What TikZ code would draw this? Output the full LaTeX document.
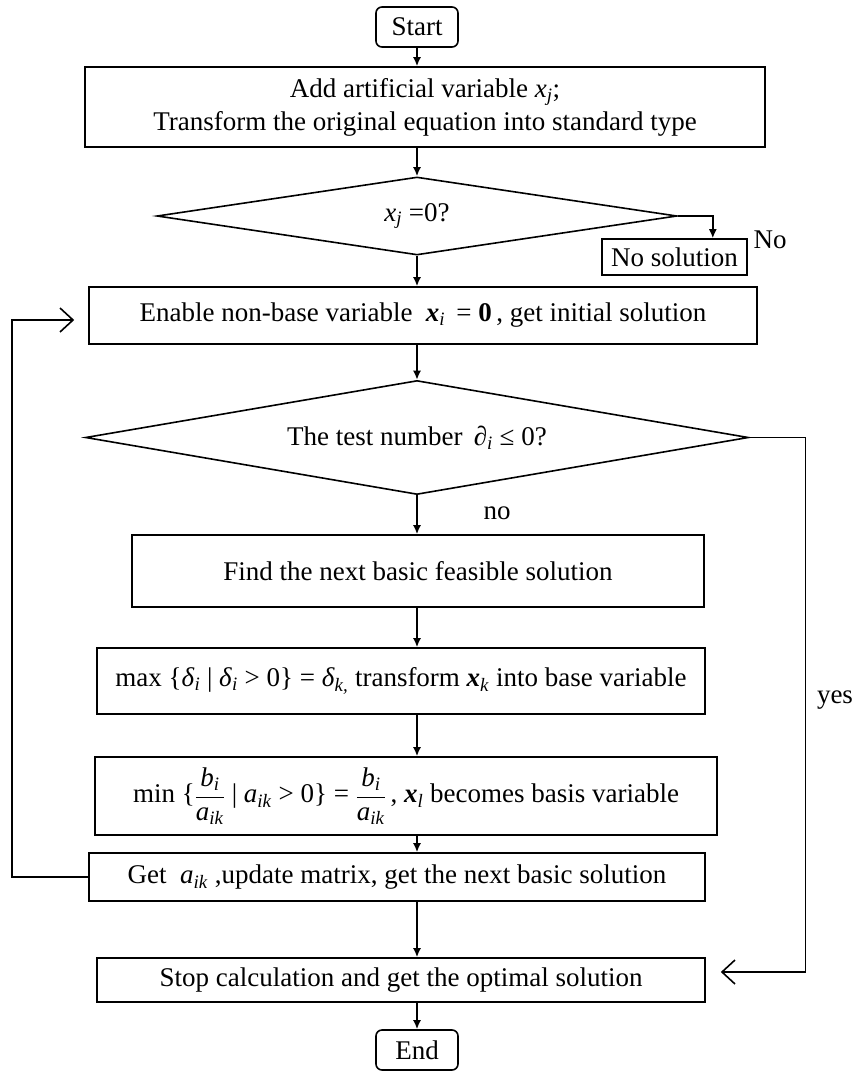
\documentclass[tikz,border=0pt]{standalone}
\usepackage{fontspec}
\setmainfont{Liberation Serif}
\usetikzlibrary{arrows.meta,shapes.geometric}
\newcommand\sbi[1]{\textsubscript{\textit{#1}}}
\newcommand\myfrac[2]{\ensuremath{\displaystyle\frac{\mbox{#1}}{\mbox{#2}}}}
\begin{document}
\begin{tikzpicture}[x=1pt,y=-1pt,
  font=\fontsize{27}{33}\selectfont,
  line width=1.6pt,
  box/.style={draw, rectangle, inner sep=0pt, align=center},
  term/.style={draw, rectangle, rounded corners=6pt, inner sep=0pt},
  dec/.style={draw, diamond, inner sep=0pt},
  arr/.style={-{Latex[length=9pt,width=8pt]}},
  openarr/.style={-{Straight Barb[length=13pt,width=24pt]}},
  lbl/.style={inner sep=0pt}]
\useasboundingbox (0,0) rectangle (861,1072);

\node[term, minimum width=82pt, minimum height=40pt] (start) at (417,27) {Start};
\node[box, minimum width=680pt, minimum height=80pt] (b1) at (425,107)
  {Add artificial variable \textit{x}\sbi{j};\\Transform the original equation into standard type};
\node[dec, shape aspect=6.67, minimum width=520pt, minimum height=78pt] (d1) at (417,216)
  {\textit{x}\sbi{j} =0?};
\node[box, minimum width=145pt, minimum height=36pt] (nosol) at (674.5,257) {No solution};
\node[box, minimum width=668pt, minimum height=57pt] (b2) at (423,315.5)
  {Enable non-base variable \ \textit{\textbf{x}}\sbi{i} \,= \textbf{0}\,, get initial solution};
\node[dec, shape aspect=5.8, minimum width=663pt, minimum height=114pt] (d2) at (417,437.5)
  {The test number \,\textit{∂}\sbi{i} ≤ 0?};
\node[box, minimum width=572pt, minimum height=72pt] (b3) at (418,571)
  {Find the next basic feasible solution};
\node[box, minimum width=608pt, minimum height=66pt] (b4) at (401,681)
  {max \{\textit{δ}\sbi{i} | \textit{δ}\sbi{i} > 0\} = \textit{δ}\sbi{k,} transform \textit{\textbf{x}}\sbi{k} into base variable};
\node[box, minimum width=622pt, minimum height=78pt] (b5) at (406,796)
  {min \{\myfrac{\textit{b}\sbi{i}}{\textit{a}\sbi{ik}} | \textit{a}\sbi{ik} > 0\} = \myfrac{\textit{b}\sbi{i}}{\textit{a}\sbi{ik}}\,,\ \textit{\textbf{x}}\sbi{l} becomes basis variable};
\node[box, minimum width=616pt, minimum height=48pt] (b6) at (397,877)
  {Get \ \textit{a}\sbi{ik} ,update matrix, get the next basic solution};
\node[box, minimum width=608pt, minimum height=44pt] (stop) at (401,980)
  {Stop calculation and get the optimal solution};
\node[term, minimum width=82pt, minimum height=40pt] (end) at (417,1050) {End};

\node[lbl] (lno) at (770,240) {No};
\node[lbl] (lno2) at (497,513) {no};
\node[lbl] (lyes) at (835,700) {yes};

\draw[arr] (start.south) -- (start.south |- b1.north);
\draw[arr] (d1.north |- b1.south) -- (d1.north);
\draw[arr] (d1.east) -- ++(35,0) coordinate (c1) -- (c1 |- nosol.north);
\draw[arr] (d1.south) -- (d1.south |- b2.north);
\draw[arr] (d2.north |- b2.south) -- (d2.north);
\draw[arr] (d2.south) -- (d2.south |- b3.north);
\draw[arr] (d2.south |- b3.south) -- (d2.south |- b4.north);
\draw[arr] (d2.south |- b4.south) -- (d2.south |- b5.north);
\draw[arr] (d2.south |- b5.south) -- (d2.south |- b6.north);
\draw[arr] (d2.south |- b6.south) -- (d2.south |- stop.north);
\draw[arr] (d2.south |- stop.south) -- (end.north);

\draw[openarr, shorten >=15pt] (d2.east) -- ++(56,0) coordinate (c2) |- ([yshift=8pt]stop.east);
\draw[openarr, shorten >=14pt] (b6.west) -- ++(-76,0) coordinate (c3) |- ([yshift=-4.5pt]b2.west);
\end{tikzpicture}
\end{document}
